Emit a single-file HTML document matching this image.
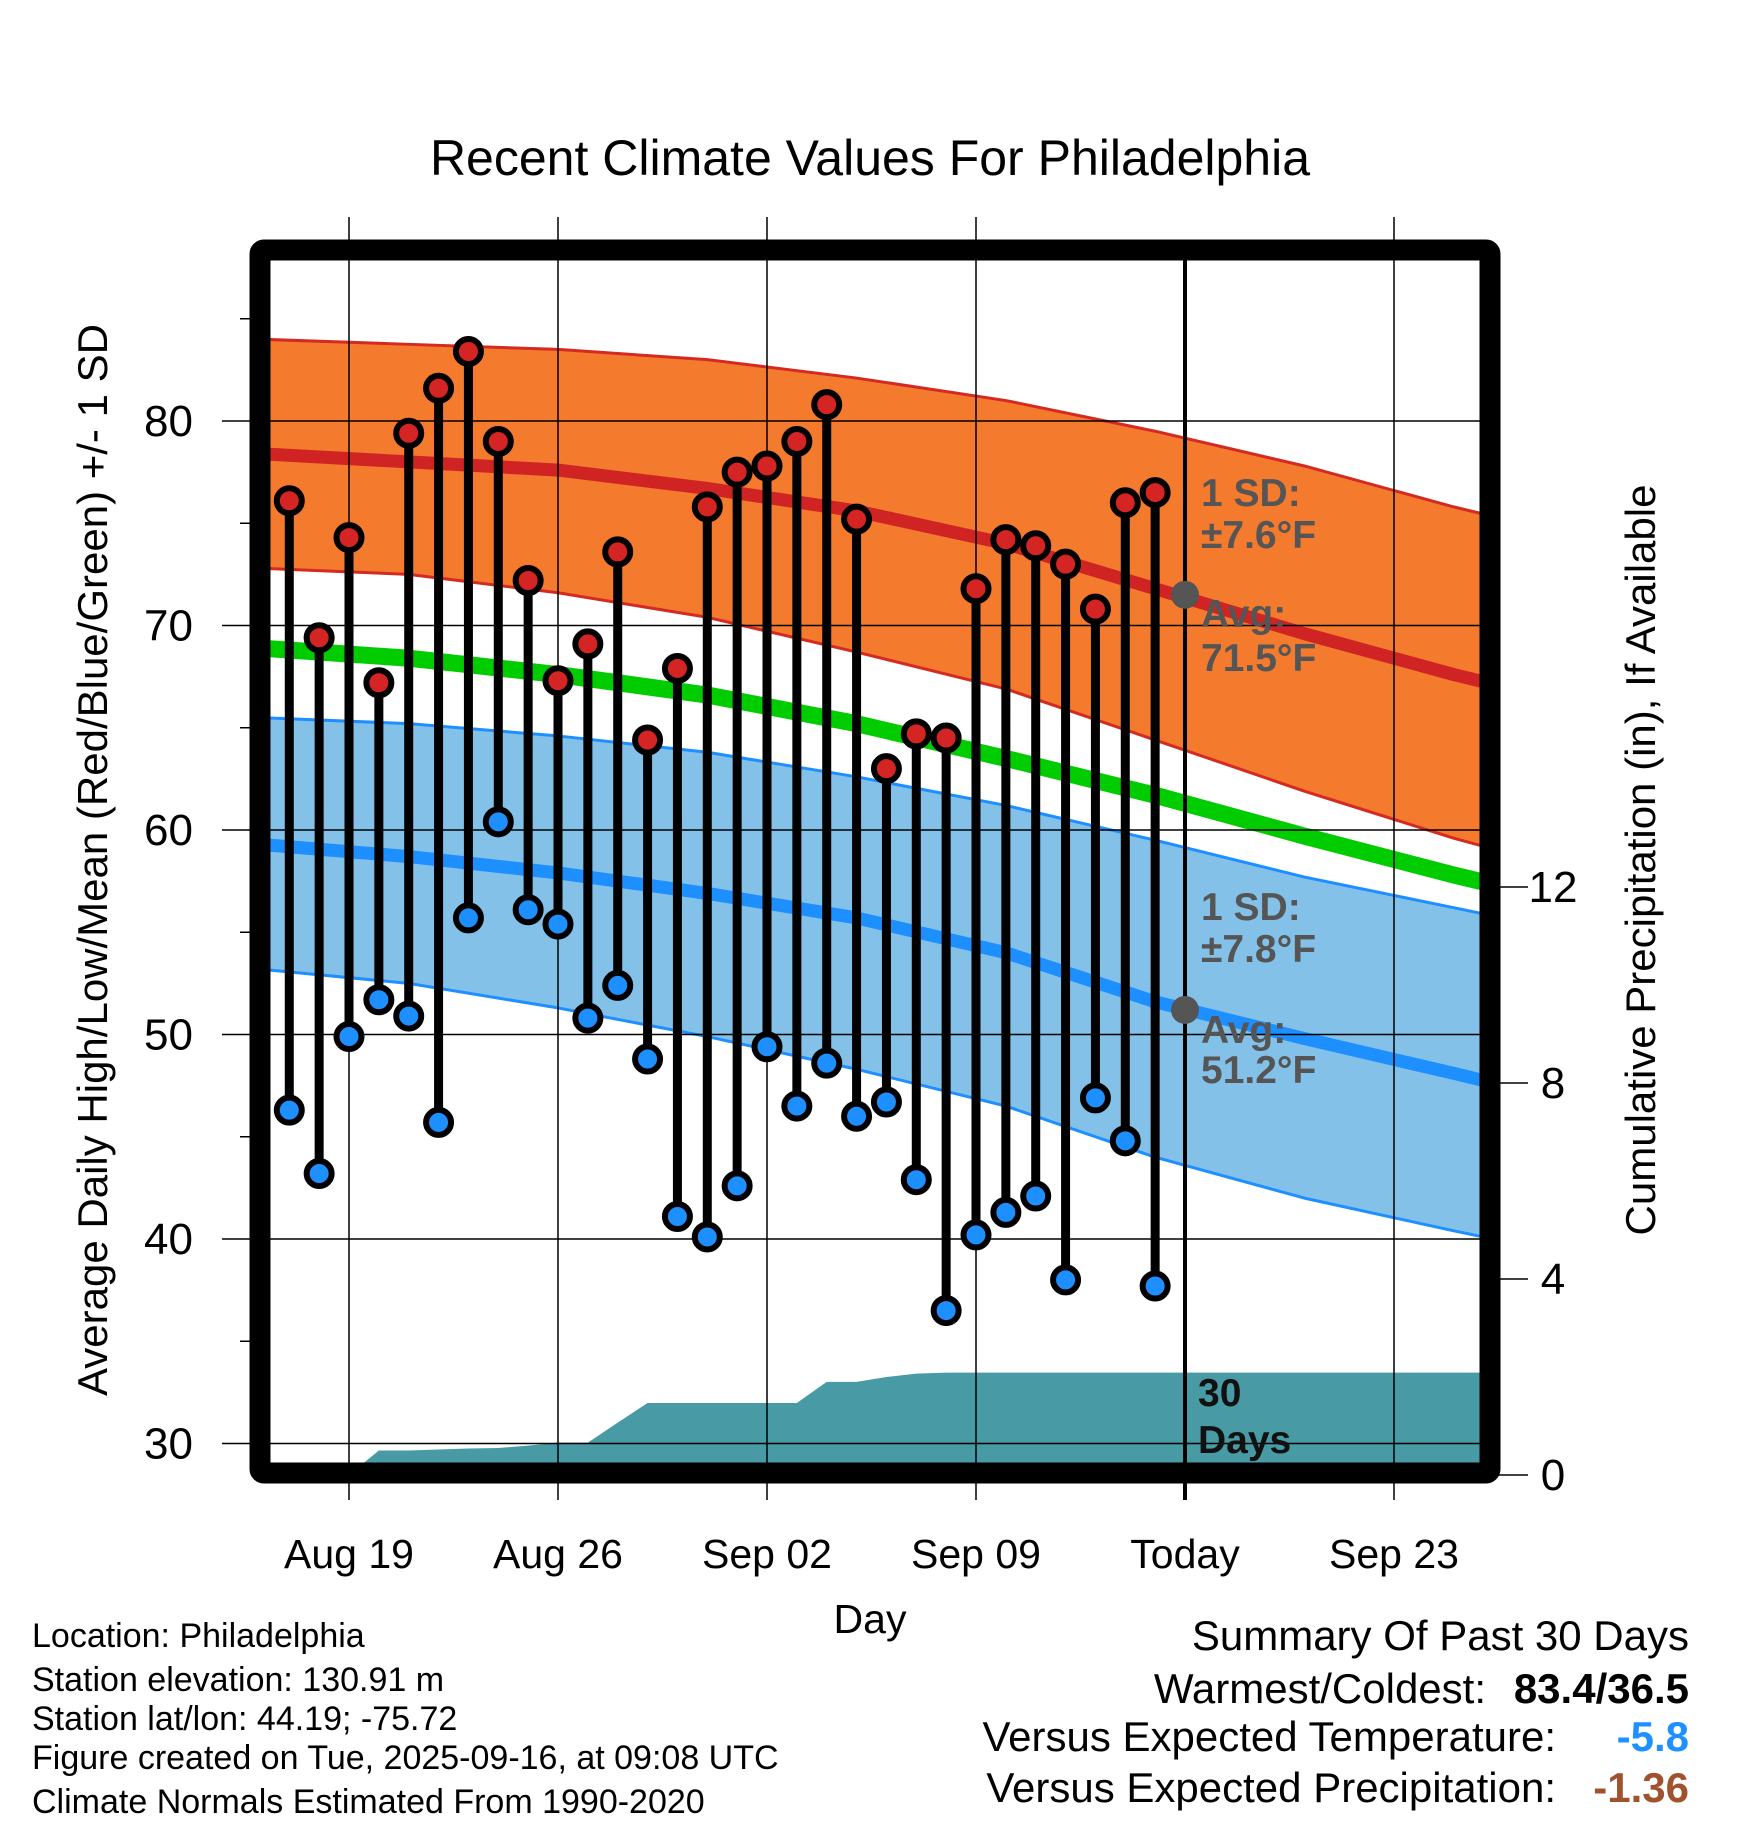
<!DOCTYPE html>
<html><head><meta charset="utf-8"><style>
html,body{margin:0;padding:0;background:#fff}
svg{display:block}
text{font-family:"Liberation Sans",sans-serif}
</style></head><body>
<svg id="chart" width="1748" height="1828" viewBox="0 0 1748 1828" xmlns="http://www.w3.org/2000/svg">
<defs><clipPath id="plotclip"><rect x="270" y="260" width="1210" height="1203"/></clipPath></defs>
<text x="870" y="175" font-size="50" text-anchor="middle">Recent Climate Values For Philadelphia</text>
<g id="bands" clip-path="url(#plotclip)"></g>
<g id="grid"></g>
<g id="marks"></g>
<g id="axes"></g>
<g font-weight="bold" font-size="39" fill="#555">
<text x="1201" y="506">1 SD:</text>
<text x="1201" y="548">±7.6°F</text>
<text x="1201" y="627">Avg:</text>
<text x="1201" y="671">71.5°F</text>
<text x="1201" y="920">1 SD:</text>
<text x="1201" y="962">±7.8°F</text>
<text x="1201" y="1043">Avg:</text>
<text x="1201" y="1083">51.2°F</text>
<text x="1198" y="1406" fill="#111">30</text>
<text x="1198" y="1453" fill="#111">Days</text>
</g>
<text x="870" y="1633" font-size="41" text-anchor="middle">Day</text>
<text transform="translate(107,860) rotate(-90)" font-size="42" text-anchor="middle">Average Daily High/Low/Mean (Red/Blue/Green) +/- 1 SD</text>
<text transform="translate(1655,860) rotate(-90)" font-size="42" text-anchor="middle">Cumulative Precipitation (in), If Available</text>
<g font-size="34">
<text x="32" y="1647">Location: Philadelphia</text>
<text x="32" y="1691">Station elevation: 130.91 m</text>
<text x="32" y="1730">Station lat/lon: 44.19; -75.72</text>
<text x="32" y="1769">Figure created on Tue, 2025-09-16, at 09:08 UTC</text>
<text x="32" y="1813">Climate Normals Estimated From 1990-2020</text>
</g>
<g font-size="42" text-anchor="end">
<text x="1689" y="1650">Summary Of Past 30 Days</text>
<text x="1486" y="1703">Warmest/Coldest:</text>
<text x="1689" y="1703" font-weight="bold">83.4/36.5</text>
<text x="1556" y="1751">Versus Expected Temperature:</text>
<text x="1689" y="1751" font-weight="bold" fill="#1e90ff">-5.8</text>
<text x="1556" y="1802">Versus Expected Precipitation:</text>
<text x="1689" y="1802" font-weight="bold" fill="#a0522d">-1.36</text>
</g>
</svg>
<script>
// day index: 0 = Aug 17
const highs=[76.1,69.4,74.3,67.2,79.4,81.6,83.4,79.0,72.2,67.3,69.1,73.6,64.4,67.9,75.8,77.5,77.8,79.0,80.8,75.2,63.0,64.7,64.5,71.8,74.2,73.9,73.0,70.8,76.0,76.5];
const lows=[46.3,43.2,49.9,51.7,50.9,45.7,55.7,60.4,56.1,55.4,50.8,52.4,48.8,41.1,40.1,42.6,49.4,46.5,48.6,46.0,46.7,42.9,36.5,40.2,41.3,42.1,38.0,46.9,44.8,37.7];
const precip=[0,0,0,0.5,0.5,0.52,0.54,0.55,0.6,0.66,0.66,1.07,1.47,1.47,1.47,1.47,1.47,1.47,1.9,1.9,2.0,2.07,2.09,2.09,2.09,2.09,2.09,2.09,2.09,2.09];
// normals sampled at these day indices (-1 = Aug 16)
const normDays=[-1,4,9,14,19,24,29,34,39,41];
const highUpper=[84.0,83.75,83.5,83.0,82.1,81.0,79.5,77.8,75.8,75.1];
const highAvg=[78.4,78.0,77.6,76.7,75.6,74.0,71.8,69.6,67.6,66.9];
const highLower=[72.8,72.5,71.6,70.4,68.7,66.9,64.4,61.9,59.6,58.8];
const lowUpper=[65.5,65.2,64.6,63.8,62.6,61.2,59.5,57.7,56.2,55.6];
const lowAvg=[59.3,58.7,57.9,56.9,55.7,54.0,51.6,49.8,48.1,47.4];
const lowLower=[53.2,52.5,51.3,49.9,48.3,46.5,44.0,42.0,40.4,39.8];
const meanAvg=[68.9,68.4,67.6,66.6,65.2,63.5,61.7,59.7,57.8,57.1];
const tempTicks=[30,40,50,60,70,80];
const precipTicks=[0,4,8,12];
const dateTicks=["Aug 19","Aug 26","Sep 02","Sep 09","Today","Sep 23"];
const dateTickDays=[2,9,16,23,30,37];
const todayDay=30;

const NS="http://www.w3.org/2000/svg";
const X=d=>349+(d-2)*(836/28);
const Y=t=>421+(80-t)*20.45;
const P=p=>1475-p*49;
const L=270,R=1480,T=260,B=1463;
function mk(tag,attrs,parent){const e=document.createElementNS(NS,tag);for(const k in attrs)e.setAttribute(k,attrs[k]);parent.appendChild(e);return e;}
const bands=document.getElementById('bands'),grid=document.getElementById('grid'),marks=document.getElementById('marks'),axes=document.getElementById('axes');
function pts(arr){return normDays.map((d,i)=>X(d)+','+Y(arr[i]));}
function band(up,lo,fill,name){
  const p=pts(up).concat(pts(lo).reverse());
  const e=mk('polygon',{points:p.join(' '),fill:fill},bands);
  
  
}
function line(arr,col,w,name){
  const e=mk('polyline',{points:pts(arr).join(' '),fill:'none',stroke:col,'stroke-width':w,'stroke-linejoin':'round'},bands);
  
  
}
band(highUpper,highLower,'#f47a2e','high-sd-band');
line(highUpper,'#d42a22',3,'high-upper-line');
line(highLower,'#d42a22',3,'high-lower-line');
band(lowUpper,lowLower,'#84c1e9','low-sd-band');
line(lowUpper,'#1e8fff',3,'low-upper-line');
line(lowLower,'#1e8fff',3,'low-lower-line');
line(meanAvg,'#00cc00',17,'mean-normal-line');
line(highAvg,'#d02424',13,'high-normal-line');
line(lowAvg,'#1e8fff',13,'low-normal-line');
// precip area
let pp=[X(2)+','+P(0)];
precip.forEach((v,i)=>{if(i>=2)pp.push(X(i)+','+P(v));});
pp.push(R+','+P(precip[precip.length-1]));pp.push(R+','+B);pp.push(X(2)+','+B);
const pa=mk('polygon',{points:pp.join(' '),fill:'#489aa4'},bands);


// gridlines
dateTickDays.forEach((d,i)=>{
  if(d===todayDay)return;
  const g=mk('line',{x1:X(d),x2:X(d),y1:217,y2:1500,stroke:'#000','stroke-width':1.5},grid);
  
  
});
tempTicks.forEach(t=>{
  const g=mk('line',{x1:222,x2:R,y1:Y(t),y2:Y(t),stroke:'#000','stroke-width':1.5},grid);
  
  
  const lb=mk('text',{x:193,y:Y(t)+15,'font-size':44,'text-anchor':'end'},axes);
  lb.textContent=t;
  
  
});
for(let t=35;t<=85;t+=10){
  const m=mk('line',{x1:240,x2:251,y1:Y(t),y2:Y(t),stroke:'#000','stroke-width':1.5},grid);
  
  
}
const tl=mk('line',{x1:X(todayDay),x2:X(todayDay),y1:250,y2:1500,stroke:'#000','stroke-width':4},grid);


// today markers
[71.5,51.2].forEach((v,k)=>{
  const c=mk('circle',{cx:X(todayDay),cy:Y(v),r:14,fill:'#555'},grid);
  
  
});
dateTicks.forEach((s,i)=>{
  const lb=mk('text',{x:X(dateTickDays[i]),y:1568,'font-size':41,'text-anchor':'middle'},axes);
  lb.textContent=s;
  
  
});
precipTicks.forEach(p=>{
  const tk=mk('line',{x1:1490,x2:1528,y1:P(p),y2:P(p),stroke:'#000','stroke-width':1.5},axes);
  
  
  const lb=mk('text',{x:1553,y:P(p)+15,'font-size':44,'text-anchor':'middle'},axes);
  lb.textContent=p;
  
  
});
// stems + markers
highs.forEach((h,i)=>{
  const x=X(i);
  const s=mk('line',{x1:x,x2:x,y1:Y(h),y2:Y(lows[i]),stroke:'#000','stroke-width':9},marks);
  
  
});
highs.forEach((h,i)=>{
  const x=X(i);
  const c1=mk('circle',{cx:x,cy:Y(h),r:12.5,fill:'#d42424',stroke:'#000','stroke-width':6},marks);
  
  
  const c2=mk('circle',{cx:x,cy:Y(lows[i]),r:12.5,fill:'#1e8fff',stroke:'#000','stroke-width':6},marks);
  
  
});
const fr=mk('rect',{x:260,y:250,width:1230,height:1223,fill:'none',stroke:'#000','stroke-width':21,rx:4},axes);


</script>
</body></html>
